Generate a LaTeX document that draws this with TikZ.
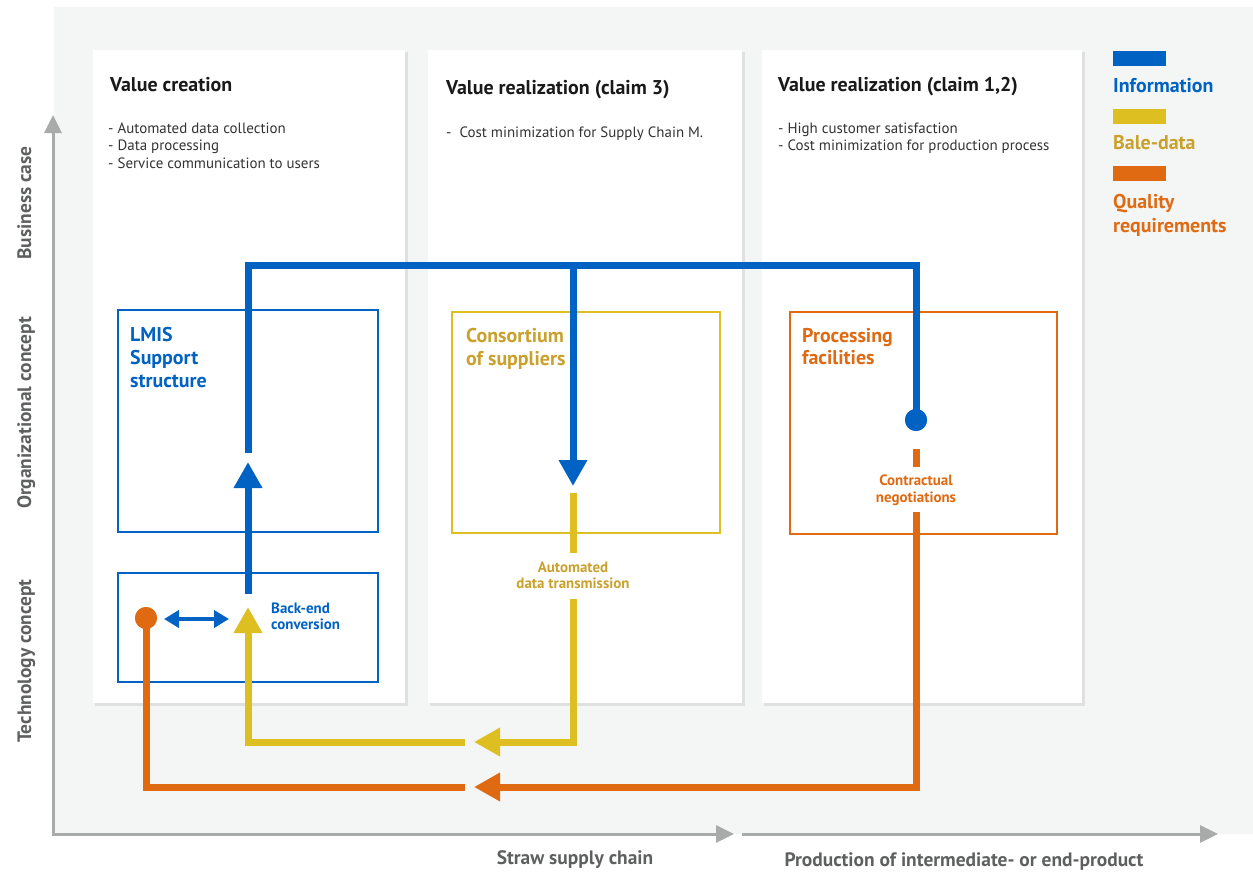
\documentclass[tikz,border=0pt]{standalone}
\usepackage{fontspec}
\setmainfont{PT Sans}
\usetikzlibrary{arrows.meta}
\definecolor{cblue}{HTML}{0062C3}
\definecolor{cyel}{HTML}{DEBF22}
\definecolor{cyeltxt}{HTML}{C9A12C}
\definecolor{corange}{HTML}{E06A12}
\definecolor{bgc}{HTML}{F4F5F5}
\definecolor{axc}{HTML}{A9ABAB}
\definecolor{axtxt}{HTML}{5E5F5F}
\tikzset{axtip/.tip={Triangle[length=18bp,width=17bp]},
  bigarr/.tip={Triangle[length=26bp,width=27bp]},
  smallarr/.tip={Triangle[length=15bp,width=17bp]}}
\begin{document}
\begin{tikzpicture}[x=1bp,y=-1bp,line join=miter,
  shadowbox/.style={fill=black!12},
  cardbox/.style={fill=white},
  ibox/.style={line width=2.5bp},
  flow/.style={line width=7bp},
  bigtip/.style={-bigarr},
  axline/.style={draw=axc,line width=3bp},
  ttl/.style={anchor=base west,inner sep=0,font=\fontsize{20}{24}\selectfont\bfseries,text=black!90},
  bul/.style={anchor=base west,inner sep=0,font=\fontsize{15}{18}\selectfont,text=black!80},
  lbl/.style={anchor=base west,inner sep=0,font=\fontsize{20}{24}\selectfont\bfseries},
  small/.style={anchor=base,inner sep=0,font=\fontsize{15}{18}\selectfont\bfseries},
  axlbl/.style={anchor=base,inner sep=0,font=\fontsize{19.5}{23}\selectfont\bfseries,text=axtxt},
  dot/.style={circle,inner sep=0,minimum size=22bp}
]
\useasboundingbox (0,0) rectangle (1253,875);
% background
\fill[bgc] (54,7) rectangle (1253,834);

% axes
\coordinate (ytop) at (53,115);
\coordinate (orig) at (53,834);
\coordinate (xmid) at (734,834);
\coordinate (x2s) at (742,834);
\coordinate (x2e) at (1218,834);
\draw[axline,axtip-axtip] (ytop) -- (orig) -- (xmid);
\draw[axline,-axtip] (x2s) -- (x2e);

\node[axlbl,rotate=90] (bc) at (31,203) {Business case};
\node[axlbl,rotate=90] (oc) at (31,413) {Organizational concept};
\node[axlbl,rotate=90] (tc) at (31,661) {Technology concept};
\node[axlbl] (ssc) at (575,864) {Straw supply chain};
\node[axlbl] (pie) at (964,866) {Production of intermediate- or end-product};

% cards
\foreach \a/\b in {93/405,428/742,762/1082}{
  \fill[shadowbox] (\a+2,52) rectangle (\b+2.5,705.5);
  \fill[cardbox] (\a,50) rectangle (\b,703);
}

% titles
\node[ttl] (t1) at (110,91) {Value creation};
\node[ttl] (t2) at (446,94) {Value realization (claim 3)};
\node[ttl] (t3) at (778,91) {Value realization (claim 1,2)};

\node[bul] (b11) at (108,133) {- Automated data collection};
\node[bul] (b12) at (108,150.5) {- Data processing};
\node[bul] (b13) at (108,168) {- Service communication to users};
\node[bul] (b21) at (446,137) {-\ \ Cost minimization for Supply Chain M.};
\node[bul] (b31) at (778,133) {- High customer satisfaction};
\node[bul] (b32) at (778,150.5) {- Cost minimization for production process};

% legend
\fill[cblue] (1113,51) rectangle (1166,66);
\node[lbl,text=cblue] (li) at (1113,92) {Information};
\fill[cyel] (1113,109) rectangle (1166,124);
\node[lbl,text=cyeltxt] (lb) at (1113,149) {Bale-data};
\fill[corange] (1113,166) rectangle (1166,181);
\node[lbl,text=corange] (lq1) at (1113,208) {Quality};
\node[lbl,text=corange] (lq2) at (1113,232) {requirements};

% inner boxes
\draw[ibox,cblue] (118,310) rectangle (378,532);
\draw[ibox,cblue] (118,573) rectangle (378,682);
\draw[ibox,cyel] (452,312) rectangle (720,533);
\draw[ibox,corange] (790,312) rectangle (1057,534);

\node[lbl,text=cblue] (lm1) at (130,341) {LMIS};
\node[lbl,text=cblue] (lm2) at (130,364) {Support};
\node[lbl,text=cblue] (lm3) at (130,387) {structure};
\node[lbl,text=cyeltxt] (co1) at (466,342) {Consortium};
\node[lbl,text=cyeltxt] (co2) at (466,365) {of suppliers};
\node[lbl,text=corange] (pf1) at (802,342) {Processing};
\node[lbl,text=corange] (pf2) at (802,364) {facilities};

\node[small,text=cblue,anchor=base west] (be1) at (271,613) {Back-end};
\node[small,text=cblue,anchor=base west] (be2) at (271,629) {conversion};
\node[small,text=cyeltxt] (ad1) at (573,572) {Automated};
\node[small,text=cyeltxt] (ad2) at (573,588) {data transmission};
\node[small,text=corange] (cn1) at (916,485) {Contractual};
\node[small,text=corange] (cn2) at (916,502) {negotiations};

% waypoints
\coordinate (bA) at (248,594);
\coordinate (bAt) at (248,462);
\coordinate (bB) at (248,453);
\coordinate (bC) at (248,265);
\coordinate (bD) at (573,265);
\coordinate (bDt) at (573,486);
\coordinate (bE) at (916,265);
\node[dot,fill=cblue] (bdot) at (916,420) {};
\node[dot,fill=corange] (odot) at (146,618) {};

\coordinate (y1) at (573,493);
\coordinate (y2) at (573,553);
\coordinate (y3) at (573,599);
\coordinate (y4) at (573,742);
\coordinate (y5t) at (474,742);
\coordinate (y6) at (465,742);
\coordinate (y7) at (248,742);
\coordinate (y8t) at (248,607);

\coordinate (o1) at (916,449);
\coordinate (o2) at (916,467);
\coordinate (o3) at (916,512);
\coordinate (o4) at (916,787);
\coordinate (o5t) at (474,787);
\coordinate (o6) at (465,787);
\coordinate (o7) at (146,787);

% yellow flow
\draw[flow,cyel] (y1) -- (y2);
\draw[flow,cyel,bigtip] (y3) -- (y4) -- (y5t);
\draw[flow,cyel,bigtip] (y6) -- (y7) -- (y8t);

% orange flow
\draw[flow,corange] (o1) -- (o2);
\draw[flow,corange,bigtip] (o3) -- (o4) -- (o5t);
\draw[flow,corange] (o6) -- (o7) -- (odot.center);
\node[dot,fill=corange] at (odot) {};

% blue flow
\draw[flow,cblue,bigtip] (bA) -- (bAt);
\draw[flow,cblue] (bB) -- (bC) -- (bE) -- (bdot.center);
\draw[flow,cblue,bigtip] (bD) -- (bDt);
\node[dot,fill=cblue] at (bdot) {};

% double arrow
\coordinate (dl) at (164,619);
\coordinate (dr) at (229,619);
\draw[cblue,line width=4bp,smallarr-smallarr] (dl) -- (dr);
\end{tikzpicture}
\end{document}
